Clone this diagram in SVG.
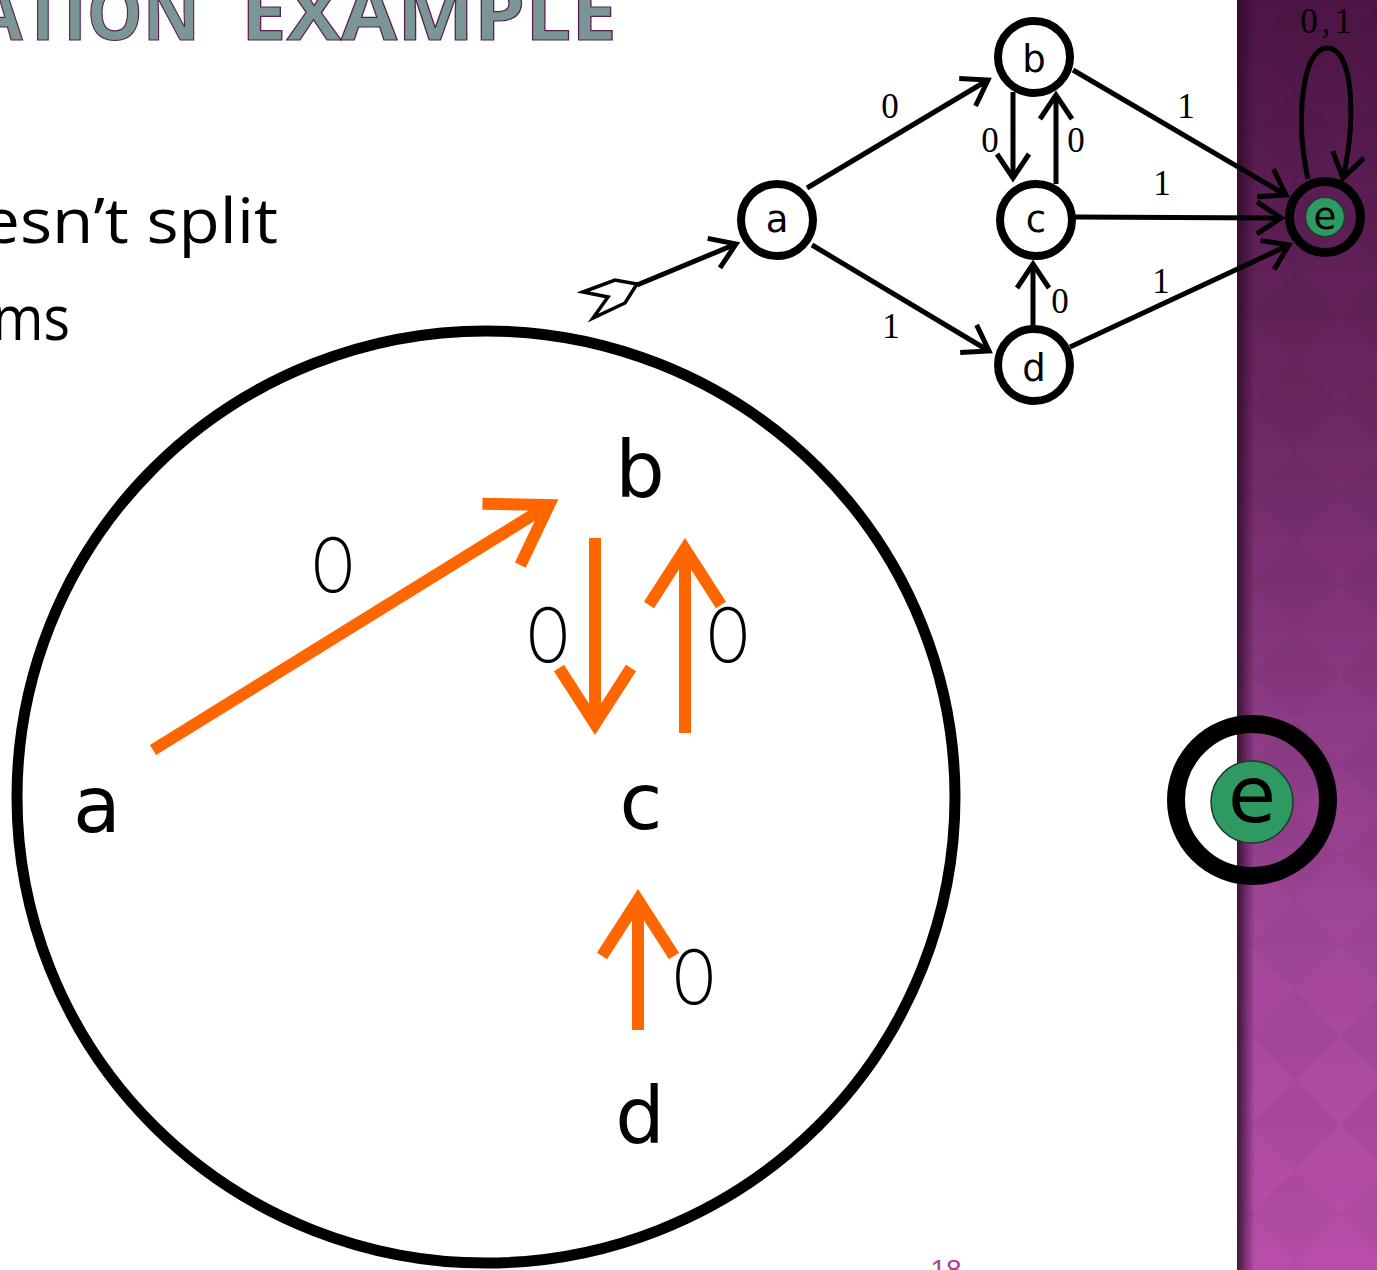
<svg xmlns="http://www.w3.org/2000/svg" width="1377" height="1270" viewBox="0 0 1377 1270">
<style>
.title{font-family:"Open Sans","Liberation Sans",sans-serif;font-weight:700;font-size:76px;fill:#7A9696;stroke:#5A2050;stroke-width:1.2px}
.body{font-family:"Open Sans","Liberation Sans",sans-serif;font-size:62px;fill:#000}
.node{fill:#fff;stroke:#000;stroke-width:8}
.nlbl{font-family:"DejaVu Sans","Liberation Sans",sans-serif;font-size:37px;fill:#000;text-anchor:middle}
.elbl{font-family:"Liberation Serif","DejaVu Serif",serif;font-size:35px;fill:#000;text-anchor:middle}
.edge{fill:none;stroke:#000;stroke-width:5}
.big{font-family:"DejaVu Sans","Liberation Sans",sans-serif;font-size:78px;fill:#000;text-anchor:middle}
.bigl{font-family:"Inter","Lato","Liberation Sans",sans-serif;font-weight:200;font-size:75px;fill:#000;text-anchor:middle}
.oedge{fill:none;stroke:#FF6600;stroke-width:12}
</style>
<defs>
<linearGradient id="bar" x1="0" y1="0" x2="0" y2="1">
<stop offset="0" stop-color="#4C1545"/>
<stop offset="0.3" stop-color="#6A2561"/>
<stop offset="0.55" stop-color="#8A3A82"/>
<stop offset="0.75" stop-color="#A3479B"/>
<stop offset="1" stop-color="#B94EAA"/>
</linearGradient>
<linearGradient id="shade" x1="0" y1="0" x2="1" y2="0">
<stop offset="0" stop-color="#2E0A2A" stop-opacity="0.85"/>
<stop offset="1" stop-color="#2E0A2A" stop-opacity="0"/>
</linearGradient>
<pattern id="dia" x="1250" y="0" width="90" height="90" patternUnits="userSpaceOnUse">
<path d="M45,0 L90,45 L45,90 L0,45 Z" fill="#000" fill-opacity="0.04"/>
</pattern>
<marker id="ak" markerUnits="userSpaceOnUse" viewBox="-40 -30 50 60" markerWidth="50" markerHeight="60" refX="0" refY="0" orient="auto" overflow="visible">
<path d="M-24,-16 L0,0 L-24,16" fill="none" stroke="#000" stroke-width="5"/>
</marker>
<marker id="ao" markerUnits="userSpaceOnUse" viewBox="-80 -50 100 100" markerWidth="100" markerHeight="100" refX="0" refY="0" orient="auto" overflow="visible">
<path d="M-56,-36 L0,0 L-56,36" fill="none" stroke="#FF6600" stroke-width="12"/>
</marker>
</defs>

<rect x="0" y="0" width="1377" height="1270" fill="#fff"/>
<g id="sidebar">
<rect x="1237" y="0" width="140" height="1270" fill="url(#bar)"/>
<rect x="1237" y="0" width="140" height="1270" fill="url(#dia)"/>
<rect x="1237" y="0" width="18" height="1270" fill="url(#shade)"/>
</g>

<g id="title">
<text class="title" x="-26" y="40" textLength="226" lengthAdjust="spacingAndGlyphs">ATION</text>
<text class="title" x="241" y="40" textLength="376" lengthAdjust="spacingAndGlyphs">EXAMPLE</text>
</g>
<g id="bodytext">
<text class="body" x="-18" y="243" textLength="296" lengthAdjust="spacingAndGlyphs">esn’t split</text>
<text class="body" x="-8" y="340" textLength="78" lengthAdjust="spacingAndGlyphs">ms</text>
</g>

<g id="connectors">
<path class="edge" d="M637,285 L736,244" marker-end="url(#ak)"/>
<path class="edge" d="M807,188 L988,80" marker-end="url(#ak)"/>
<path class="edge" d="M812,245 L989,351" marker-end="url(#ak)"/>
<path class="edge" d="M1013,92 L1013,178" marker-end="url(#ak)"/>
<path class="edge" d="M1056,184 L1056,95" marker-end="url(#ak)"/>
<path class="edge" d="M1033,327 L1033,264" marker-end="url(#ak)"/>
<path class="edge" d="M1073,70 L1286,195" marker-end="url(#ak)"/>
<path class="edge" d="M1075,217 L1281,218" marker-end="url(#ak)"/>
<path class="edge" d="M1070,347 L1289,245" marker-end="url(#ak)"/>
<path class="edge" d="M1308,179 C1295,120 1302,48 1327,48 C1354,48 1356,120 1343,178" marker-end="url(#ak)"/>
<path d="M583,292 L615,280 L637,284 L625,303 L593,318 L608,297 Z" fill="#fff" stroke="#000" stroke-width="3.5" stroke-linejoin="miter"/>
<text class="elbl" x="890" y="118">0</text>
<text class="elbl" x="891" y="338">1</text>
<text class="elbl" x="990" y="152">0</text>
<text class="elbl" x="1076" y="152">0</text>
<text class="elbl" x="1060" y="313">0</text>
<text class="elbl" x="1186" y="118">1</text>
<text class="elbl" x="1162" y="195">1</text>
<text class="elbl" x="1161" y="293">1</text>
<text class="elbl" x="1328" y="33" letter-spacing="4">0,1</text>
</g>

<g id="node-a"><circle class="node" cx="777" cy="220" r="36"/><text class="nlbl" x="777" y="232">a</text></g>
<g id="node-b"><circle class="node" cx="1034" cy="57" r="36"/><text class="nlbl" x="1034" y="72">b</text></g>
<g id="node-c"><circle class="node" cx="1036" cy="220" r="36"/><text class="nlbl" x="1036" y="232">c</text></g>
<g id="node-d"><circle class="node" cx="1034" cy="365" r="36"/><text class="nlbl" x="1034" y="381">d</text></g>
<g id="node-e">
<circle cx="1325" cy="217" r="35.5" fill="none" stroke="#000" stroke-width="9"/>
<circle cx="1325" cy="217" r="19.5" fill="#2E9A62" stroke="#1a3a2a" stroke-width="1.2"/>
<text class="nlbl" x="1325" y="229" font-size="34">e</text>
</g>

<g id="partition">
<ellipse cx="486" cy="797" rx="469" ry="466" fill="none" stroke="#000" stroke-width="11"/>
<text class="big" x="97" y="832">a</text>
<text class="big" x="640" y="497">b</text>
<text class="big" x="641" y="829">c</text>
<text class="big" x="640" y="1143">d</text>
</g>
<g id="orange-connectors">
<path class="oedge" d="M153,750 L549,505" marker-end="url(#ao)"/>
<path class="oedge" d="M595,538 L595,724" marker-end="url(#ao)"/>
<path class="oedge" d="M685,733 L685,549" marker-end="url(#ao)"/>
<path class="oedge" d="M638,1030 L638,900" marker-end="url(#ao)"/>
<text class="bigl" x="333" y="592" textLength="46" lengthAdjust="spacingAndGlyphs">0</text>
<text class="bigl" x="548" y="662" textLength="46" lengthAdjust="spacingAndGlyphs">0</text>
<text class="bigl" x="728" y="662" textLength="46" lengthAdjust="spacingAndGlyphs">0</text>
<text class="bigl" x="694" y="1004" textLength="46" lengthAdjust="spacingAndGlyphs">0</text>
</g>

<g id="node-e-big">
<circle cx="1252" cy="800" r="76" fill="none" stroke="#000" stroke-width="18"/>
<circle cx="1252" cy="802" r="41" fill="#2E9A62" stroke="#1a3a2a" stroke-width="1.5"/>
<text class="big" x="1252" y="822" font-size="70">e</text>
</g>

<g id="pagenum">
<text x="946" y="1279" font-family="Liberation Sans, sans-serif" font-size="28" fill="#B040A0" text-anchor="middle">18</text>
</g>
</svg>
